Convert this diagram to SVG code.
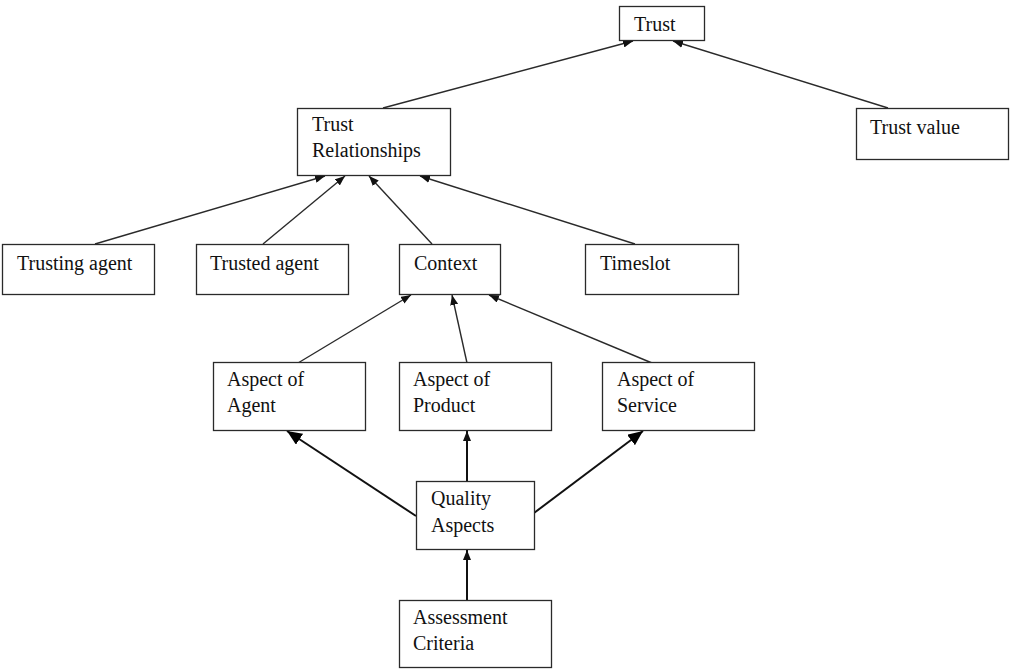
<svg xmlns="http://www.w3.org/2000/svg" width="1011" height="671" viewBox="0 0 1011 671">
  <style>
    .box { fill: #ffffff; stroke: #2a2a2a; stroke-width: 1.3; }
    .lbl { font-family: "Liberation Serif", "Times New Roman", serif; font-size: 20px; fill: #111111; }
    .edge { fill: none; stroke: #2a2a2a; stroke-width: 1.4; }
    .edge-bold { fill: none; stroke: #111111; stroke-width: 2; }
  </style>
  <defs>
    <marker id="arrow-sm" viewBox="0 0 10 8" refX="10" refY="4" markerWidth="10" markerHeight="8" markerUnits="userSpaceOnUse" orient="auto">
      <path d="M0,0 L10,4 L0,8 Z" fill="#111111"/>
    </marker>
    <marker id="arrow-lg" viewBox="0 0 15 13" refX="15" refY="6.5" markerWidth="15" markerHeight="13" markerUnits="userSpaceOnUse" orient="auto">
      <path d="M0,0 L15,6.5 L0,13 Z" fill="#000000"/>
    </marker>
  </defs>
  <rect width="1011" height="671" fill="#ffffff"/>

  <!-- connectors -->
  <g id="connectors">
    <line class="edge" x1="383" y1="108" x2="633" y2="41" marker-end="url(#arrow-sm)"/>
    <line class="edge" x1="888" y1="108" x2="673" y2="41" marker-end="url(#arrow-sm)"/>
    <line class="edge" x1="95" y1="244" x2="325" y2="176" marker-end="url(#arrow-sm)"/>
    <line class="edge" x1="263" y1="244" x2="345" y2="176" marker-end="url(#arrow-sm)"/>
    <line class="edge" x1="432" y1="244" x2="369" y2="176" marker-end="url(#arrow-sm)"/>
    <line class="edge" x1="635" y1="244" x2="420" y2="176" marker-end="url(#arrow-sm)"/>
    <line class="edge" x1="298" y1="363" x2="411" y2="295" marker-end="url(#arrow-sm)"/>
    <line class="edge" x1="467" y1="363" x2="452" y2="295" marker-end="url(#arrow-sm)"/>
    <line class="edge" x1="652" y1="363" x2="489" y2="295" marker-end="url(#arrow-sm)"/>
    <line class="edge-bold" x1="416" y1="516" x2="287" y2="431" marker-end="url(#arrow-lg)"/>
    <line class="edge-bold" x1="530" y1="516" x2="643" y2="431" marker-end="url(#arrow-lg)"/>
    <line class="edge-bold" x1="467" y1="482" x2="467" y2="431" marker-end="url(#arrow-sm)"/>
    <line class="edge-bold" x1="467" y1="601" x2="467" y2="550" marker-end="url(#arrow-sm)"/>
  </g>

  <g id="trust">
    <rect class="box" x="619.5" y="6.5" width="85" height="34"/>
    <text class="lbl" x="634" y="31">Trust</text>
  </g>
  <g id="trust-relationships">
    <rect class="box" x="297.5" y="108.5" width="153" height="67"/>
    <text class="lbl" x="312" y="131">Trust</text>
    <text class="lbl" x="312" y="157">Relationships</text>
  </g>
  <g id="trust-value">
    <rect class="box" x="856.5" y="108.5" width="152" height="51"/>
    <text class="lbl" x="870" y="134">Trust value</text>
  </g>
  <g id="trusting-agent">
    <rect class="box" x="2.5" y="244.5" width="152" height="50"/>
    <text class="lbl" x="17" y="270">Trusting agent</text>
  </g>
  <g id="trusted-agent">
    <rect class="box" x="196.5" y="244.5" width="152" height="50"/>
    <text class="lbl" x="210" y="270">Trusted agent</text>
  </g>
  <g id="context">
    <rect class="box" x="399.5" y="244.5" width="101" height="50"/>
    <text class="lbl" x="414" y="270">Context</text>
  </g>
  <g id="timeslot">
    <rect class="box" x="585.5" y="244.5" width="153" height="50"/>
    <text class="lbl" x="600" y="270">Timeslot</text>
  </g>
  <g id="aspect-agent">
    <rect class="box" x="213.5" y="362.5" width="152" height="68"/>
    <text class="lbl" x="227" y="386">Aspect of</text>
    <text class="lbl" x="227" y="412">Agent</text>
  </g>
  <g id="aspect-product">
    <rect class="box" x="399.5" y="362.5" width="152" height="68"/>
    <text class="lbl" x="413" y="386">Aspect of</text>
    <text class="lbl" x="413" y="412">Product</text>
  </g>
  <g id="aspect-service">
    <rect class="box" x="602.5" y="362.5" width="152" height="68"/>
    <text class="lbl" x="617" y="386">Aspect of</text>
    <text class="lbl" x="617" y="412">Service</text>
  </g>
  <g id="quality-aspects">
    <rect class="box" x="416.5" y="481.5" width="118" height="68"/>
    <text class="lbl" x="431" y="505">Quality</text>
    <text class="lbl" x="431" y="532">Aspects</text>
  </g>
  <g id="assessment-criteria">
    <rect class="box" x="399.5" y="600.5" width="152" height="67"/>
    <text class="lbl" x="413" y="624">Assessment</text>
    <text class="lbl" x="413" y="650">Criteria</text>
  </g>
</svg>
